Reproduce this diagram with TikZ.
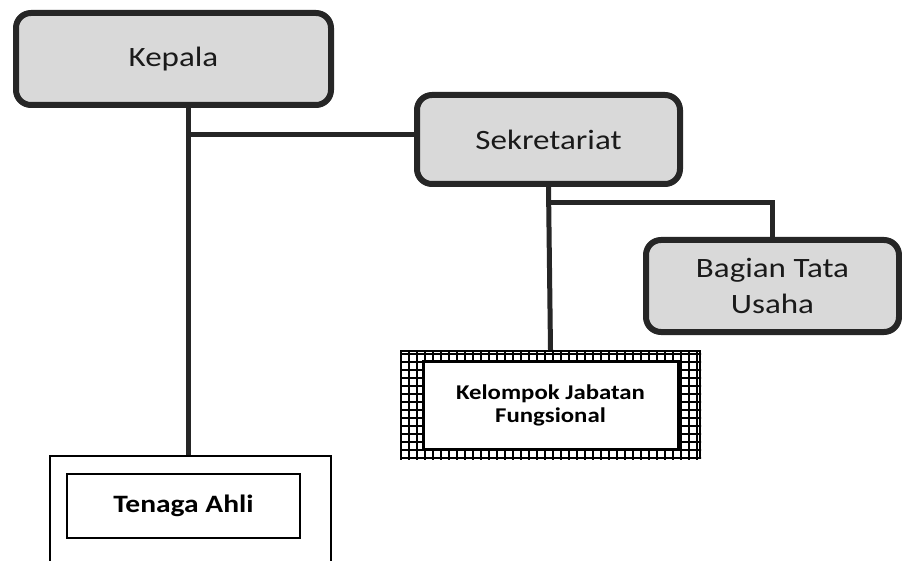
\documentclass[tikz,border=0pt]{standalone}
\usepackage{fontspec}
\setmainfont{Carlito}[FakeStretch=1.18]
\definecolor{boxgray}{HTML}{D9D9D9}
\definecolor{inkdark}{HTML}{262626}
\definecolor{textdark}{HTML}{1A1A1A}
\tikzset{
  unitbox/.style={draw=inkdark, fill=boxgray, line width=6pt, rounded corners=15pt,
    align=center, text=textdark, inner sep=0pt,
    font=\fontsize{28}{36}\selectfont},
  plainbox/.style={draw=black, fill=white, inner sep=0pt, align=center},
  link/.style={draw=inkdark, line width=5pt},
  gridline/.style={draw=black, line width=2.2pt}
}
\begin{document}
\begin{tikzpicture}[x=1pt, y=-1pt]
  \clip (0,0) rectangle (902,561);
  \fill[white] (0,0) rectangle (902,561);

  % head and secretariat units
  \node[unitbox, minimum width=315pt, minimum height=92pt] (kepala) at (173.5,59) {Kepala};
  \node[unitbox, minimum width=263pt, minimum height=89pt] (sekr) at (548.5,139.5) {Sekretariat};
  \node[unitbox, minimum width=253pt, minimum height=92pt] (bagian) at (772.5,286) {Bagian Tata\\Usaha};

  % functional group: hatched frame round a white panel
  \node[plainbox, line width=2pt, minimum width=299pt, minimum height=107pt] (kjfout) at (550.5,404.5) {};
  \begin{scope}
    \clip (kjfout.south west) rectangle (kjfout.north east);
    \foreach \gx in {401,409,...,705} \draw[gridline] (\gx,345) -- (\gx,465);
    \foreach \gy in {354,362,...,462} \draw[gridline] (395,\gy) -- (705,\gy);
  \end{scope}
  \draw[black, line width=2pt] (401,351) rectangle (700,458);
  \node[plainbox, line width=3pt, minimum width=255pt, minimum height=88pt,
        font=\bfseries\fontsize{21}{23}\selectfont] (kjf) at (550.5,405)
        {Kelompok Jabatan\\Fungsional};

  % expert staff
  \node[plainbox, line width=1.8pt, minimum width=281pt, minimum height=140pt] (taout) at (190.5,526) {};
  \node[plainbox, line width=2.5pt, minimum width=233pt, minimum height=64pt,
        font=\bfseries\fontsize{25}{28}\selectfont] (ta) at (183.5,506) {Tenaga Ahli};

  % connectors
  \coordinate (kx) at (188,0);
  \coordinate (j1) at (188,135);
  \coordinate (j2) at (548,203);
  \draw[link] (kepala.south -| kx) -- (taout.north -| kx);
  \draw[link] (j1) -- (j1 -| sekr.west);
  \draw[link] (sekr.south) -- (kjfout.north);
  \draw[link] (j2) -| (bagian.north);
\end{tikzpicture}
\end{document}
